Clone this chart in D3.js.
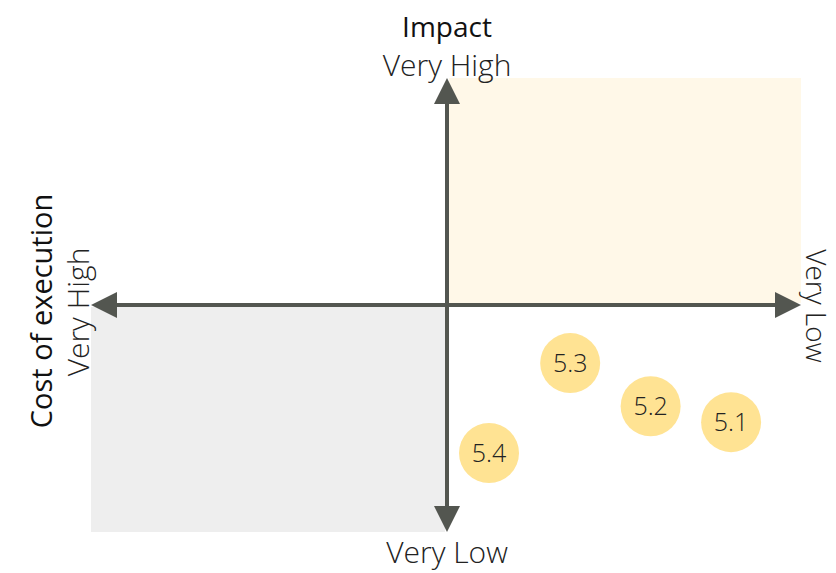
<!DOCTYPE html>
<html>
<head>
<meta charset="utf-8">
<script src="https://cdn.jsdelivr.net/npm/d3@7"></script>
<style>
  html, body { margin: 0; padding: 0; background: #ffffff; }
  svg { display: block; }
  text { font-family: "Segoe UI", "Open Sans", "Noto Sans", sans-serif; }
</style>
</head>
<body>
<div id="chart"></div>
<script>
// Initiatives plotted by cost of execution (x) and impact (y), 0–10 scale
const items = ["5.1", "5.2", "5.3", "5.4"];
const cost = [8.99, 7.86, 6.73, 5.59];      // higher = cheaper (towards "Very Low")
const impact = [2.42, 2.77, 3.72, 1.74];

const xTitle = "Cost of execution";
const yTitle = "Impact";
const xEnds = ["Very High", "Very Low"];
const yEnds = ["Very Low", "Very High"];

const W = 836, H = 573;
const axisColor = "#535650";

const svg = d3.select("#chart").append("svg")
  .attr("width", W).attr("height", H);

const x = d3.scaleLinear().domain([0, 10]).range([91, 803]);
const y = d3.scaleLinear().domain([0, 10]).range([532, 78]);

const x0 = x(5), y0 = y(5);
const half = 2;

// Quadrant shading
svg.append("rect")
  .attr("x", x0 + half).attr("y", y(10))
  .attr("width", x(10) - 2 - x0 - half).attr("height", y0 - half - y(10))
  .attr("fill", "#FFF8E8");
svg.append("rect")
  .attr("x", x(0)).attr("y", y0 + half)
  .attr("width", x0 - half - x(0)).attr("height", y(0) - y0 - half)
  .attr("fill", "#EEEEEE");

// Axis lines
const ah = 26, aw = 13;
svg.append("line")
  .attr("x1", x(0) + ah).attr("x2", x(10) - 2 - ah)
  .attr("y1", y0).attr("y2", y0)
  .attr("stroke", axisColor).attr("stroke-width", 4);
svg.append("line")
  .attr("x1", x0).attr("x2", x0)
  .attr("y1", y(10) + ah).attr("y2", y(0) - ah)
  .attr("stroke", axisColor).attr("stroke-width", 4);

// Arrowheads
const heads = [
  [[x(0), y0], [x(0) + ah, y0 - aw], [x(0) + ah, y0 + aw]],
  [[x(10) - 2, y0], [x(10) - 2 - ah, y0 - aw], [x(10) - 2 - ah, y0 + aw]],
  [[x0, y(10)], [x0 - aw, y(10) + ah], [x0 + aw, y(10) + ah]],
  [[x0, y(0)], [x0 - aw, y(0) - ah], [x0 + aw, y(0) - ah]]
];
svg.selectAll("path.head").data(heads).join("path")
  .attr("class", "head")
  .attr("d", d => "M" + d.map(p => p.join(",")).join("L") + "Z")
  .attr("fill", axisColor);

// Axis titles and end labels
svg.append("text")
  .attr("x", x0).attr("y", 37)
  .attr("text-anchor", "middle")
  .attr("font-size", 28).attr("font-weight", 400).attr("fill", "#111")
  .text(yTitle);
svg.append("text")
  .attr("x", x0).attr("y", 76)
  .attr("text-anchor", "middle")
  .attr("font-size", 30).attr("font-weight", 300).attr("fill", "#222")
  .text(yEnds[1]);
svg.append("text")
  .attr("x", x0).attr("y", 563)
  .attr("text-anchor", "middle")
  .attr("font-size", 30).attr("font-weight", 300).attr("fill", "#222")
  .text(yEnds[0]);

svg.append("text")
  .attr("transform", `translate(52,${y0 + 6}) rotate(-90)`)
  .attr("text-anchor", "middle")
  .attr("font-size", 29).attr("font-weight", 400).attr("fill", "#111")
  .text(xTitle);
svg.append("text")
  .attr("transform", `translate(89,${y0 + 7}) rotate(-90)`)
  .attr("text-anchor", "middle")
  .attr("font-size", 30).attr("font-weight", 300).attr("fill", "#222")
  .text(xEnds[0]);
svg.append("text")
  .attr("transform", `translate(806,${y0 + 1}) rotate(90)`)
  .attr("text-anchor", "middle")
  .attr("font-size", 28).attr("font-weight", 300).attr("fill", "#222")
  .text(xEnds[1]);

// Initiative bubbles
const pts = items.map((d, i) => ({ id: d, cx: x(cost[i]), cy: y(impact[i]) }));
const g = svg.selectAll("g.pt").data(pts).join("g")
  .attr("class", "pt")
  .attr("transform", d => `translate(${d.cx},${d.cy})`);
g.append("circle").attr("r", 30).attr("fill", "#FFE393");
g.append("text")
  .attr("text-anchor", "middle").attr("dy", "0.36em")
  .attr("font-size", 25).attr("font-weight", 300).attr("fill", "#222")
  .text(d => d.id);
</script>
</body>
</html>
